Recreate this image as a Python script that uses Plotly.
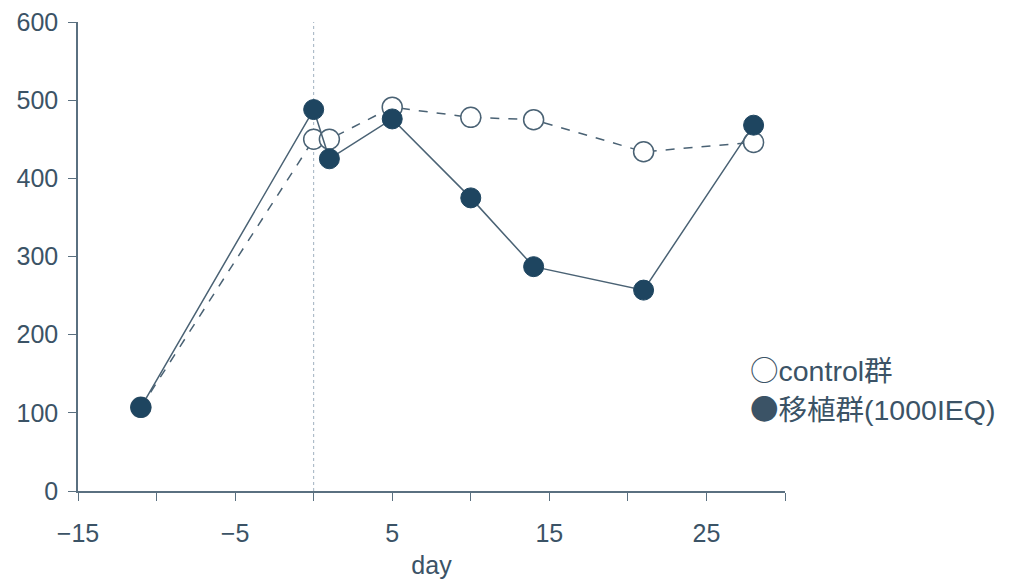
import plotly.graph_objects as go

days = [-11, 0, 1, 5, 10, 14, 21, 28]
control = [107, 450, 450, 491, 478, 475, 434, 446]
transplant = [107, 488, 425, 476, 375, 287, 257, 468]
legend_symbols = ["○", "●"]
legend_labels = ["control群", "移植群(1000IEQ)"]
x_tickvals = [-15, -10, -5, 0, 5, 10, 15, 20, 25, 30]
x_ticktext = ["−15", "", "−5", "", "5", "", "15", "", "25", ""]
y_tickvals = [0, 100, 200, 300, 400, 500, 600]

navy = "#1e4560"
line_col = "#4a6274"
text_col = "#3b5366"
tick_font = dict(family="Liberation Sans, Arial, sans-serif", size=25, color=text_col)

L, R, T, B = 70, 234, 14, 100
W, H = 1011, 583

fig = go.Figure()
fig.add_trace(go.Scatter(
    x=[0, 0], y=[0, 600], mode="lines",
    line=dict(color="#9fb0bf", width=1, dash="dot"), showlegend=False, hoverinfo="skip"))
fig.add_trace(go.Scatter(
    x=days, y=control, mode="lines+markers", name="control群",
    line=dict(color=line_col, width=1.5, dash="dash"),
    marker=dict(size=20, color="white", line=dict(color=line_col, width=1.5))))
fig.add_trace(go.Scatter(
    x=days, y=transplant, mode="lines+markers", name="移植群(1000IEQ)",
    line=dict(color=line_col, width=1.5),
    marker=dict(size=20, color=navy, line=dict(color=navy, width=1))))

fig.update_layout(
    width=W, height=H,
    margin=dict(l=L, r=R, t=T, b=B),
    paper_bgcolor="white", plot_bgcolor="white",
    showlegend=False,
    font=dict(family="Liberation Sans, Arial, Noto Sans CJK JP, sans-serif", color=text_col),
)
fig.update_xaxes(
    range=[-15, 30], tickvals=x_tickvals, ticktext=x_ticktext, automargin=False,
    showgrid=False, zeroline=False, showline=True, linecolor="#5a7080", linewidth=1.5,
    ticks="outside", ticklen=8, tickcolor="#5a7080", tickfont=tick_font, ticklabelstandoff=11,
    ticklabeloverflow="allow",
    title=dict(text="day", font=tick_font, standoff=11),
)
fig.update_yaxes(
    range=[0, 600], tickvals=y_tickvals, automargin=False,
    showgrid=False, zeroline=False, showline=True, linecolor="#5a7080", linewidth=1.5,
    ticks="outside", ticklen=8, tickcolor="#5a7080", tickfont=tick_font, ticklabelstandoff=5,
    ticklabeloverflow="allow",
)

pw = W - L - R
ph = H - T - B
for i, (sym, lab) in enumerate(zip(legend_symbols, legend_labels)):
    px, py = 740, 360 + i * 39
    fig.add_annotation(
        x=(px - L) / pw, y=1 - (py - T) / ph, xref="paper", yref="paper",
        text=f"<span style=\"font-family:'Noto Sans CJK JP'\">{sym}</span>{lab}",
        showarrow=False, xanchor="left", yanchor="middle",
        font=dict(family="Liberation Sans, Arial, Noto Sans CJK JP, sans-serif", size=28.5, color=text_col))

fig.write_html("out.html")
